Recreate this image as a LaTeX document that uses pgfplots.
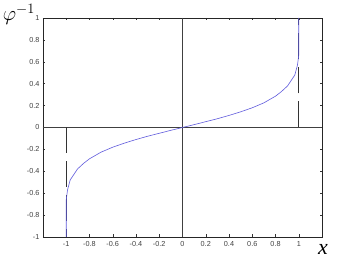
\documentclass[border=0pt]{standalone}
\usepackage{pgfplots}
\pgfplotsset{compat=1.18}
\usepackage{fontspec}
\setmainfont{Liberation Sans}
\newfontfamily\serifit{Liberation Serif}
\definecolor{curve}{RGB}{95,90,220}
\begin{document}
\begin{tikzpicture}
\begin{axis}[
  scale only axis, width=279bp, height=219bp,
  xmin=-1.2, xmax=1.2, ymin=-1, ymax=1,
  xtick={-1,-0.8,-0.6,-0.4,-0.2,0,0.2,0.4,0.6,0.8,1},
  ytick={-1,-0.8,-0.6,-0.4,-0.2,0,0.2,0.4,0.6,0.8,1},
  tick align=inside, major tick length=2.5bp,
  tick style={black!80, line width=0.4pt},
  axis line style={black!85, line width=0.5pt},
  tick label style={font=\fontsize{7.3}{8}\selectfont, text=black!75},
  /pgf/number format/assume math mode=true,
  xticklabel style={yshift=-1bp},
  clip=false,
]
\path (axis description cs:-0.154,-0.096) rectangle (axis description cs:1.068,1.082);
\addplot[black!75, line width=0.6pt] coordinates {(-1.2,0) (1.2,0)};
\addplot[black!75, line width=0.6pt] coordinates {(0,-1) (0,1)};
\addplot[black!80, line width=0.6pt, dash pattern=on 26bp off 8bp] coordinates {(1,0) (1,1)};
\addplot[black!80, line width=0.6pt, dash pattern=on 26bp off 8bp] coordinates {(-1,0) (-1,-1)};
\addplot[curve, line width=0.6pt] coordinates {
(-1,-1) (-1,-0.662) (-0.989,-0.571) (-0.966,-0.479) (-0.903,-0.379)
(-0.85,-0.327) (-0.8,-0.286) (-0.7,-0.225) (-0.6,-0.180) (-0.5,-0.143)
(-0.4,-0.110) (-0.3,-0.080) (-0.2,-0.053) (-0.1,-0.026) (0,0)
(0.1,0.026) (0.2,0.053) (0.3,0.080) (0.4,0.110) (0.5,0.143)
(0.6,0.180) (0.7,0.225) (0.8,0.286) (0.85,0.327) (0.903,0.379)
(0.966,0.479) (0.989,0.571) (1,0.662) (1,1)
};
\node[anchor=base east, inner sep=0pt] at (axis description cs:0,1) [xshift=-8bp, yshift=-3bp] {\fontsize{20}{22}\selectfont$\varphi^{-1}$};
\node[anchor=base west, inner sep=0pt] at (axis description cs:1,0) [xshift=-4bp, yshift=-17bp] {\fontsize{22}{22}\selectfont\serifit\itshape x};
\end{axis}
\end{tikzpicture}
\end{document}
